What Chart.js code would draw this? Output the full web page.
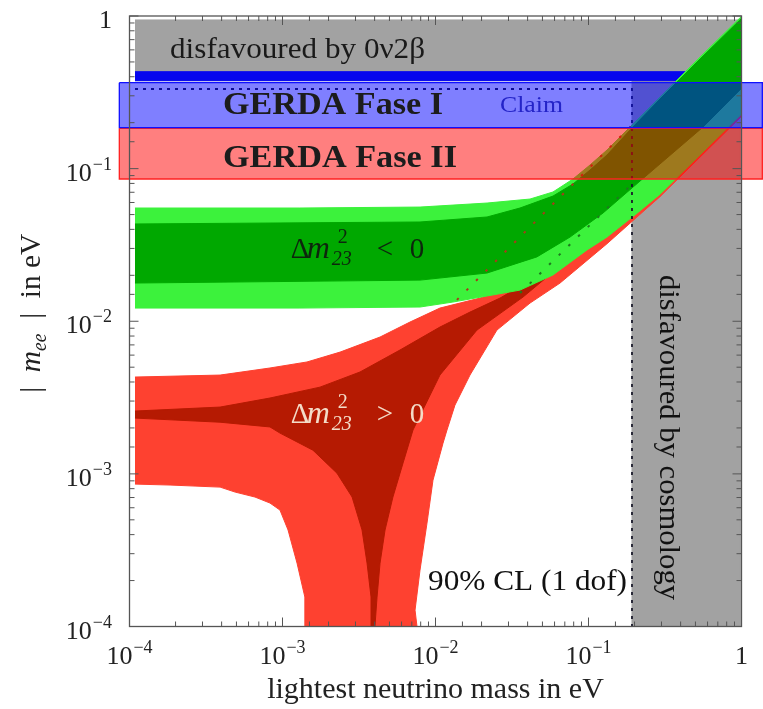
<!DOCTYPE html>
<html><head><meta charset="utf-8">
<script src="https://cdn.jsdelivr.net/npm/chart.js@4.4.1/dist/chart.umd.min.js"></script>
<style>html,body{margin:0;padding:0;background:#fff}#wrap{width:763px;height:709px;position:relative}</style>
</head><body><div id="wrap"><canvas id="c"></canvas></div>
<script>
// ---------- axes ----------
const tickExps  = [-4, -3, -2, -1, 0];
const tickBase  = ['10', '10', '10', '10', '1'];
const tickSup   = ['−4', '−3', '−2', '−1', ''];
const xTitle = 'lightest neutrino mass in eV';

// ---------- regions (x = lightest mass [eV], y = |m_ee| [eV]) ----------
// grey: disfavoured by 0v2b (top) + disfavoured by cosmology (right)
const greyX = [1.086e-4, 0.978, 0.978, 0.1924, 0.1924, 1.086e-4];
const greyY = [0.942, 0.942, 1e-4, 1e-4, 0.3767, 0.3767];
// dark blue strip
const stripX = [1.086e-4, 0.9067, 0.9067, 1.086e-4];
const stripY = [0.4315, 0.4315, 0.3767, 0.3767];
// normal hierarchy (Δm²23 > 0), outer
const redOuterX = [1.086e-4, 3.91e-4, 8.28e-4, 1.445e-3, 2.38e-3, 4.34e-3, 6.81e-3, 0.01069, 0.01954, 0.0307, 0.0482, 0.0879, 0.1607, 0.2935, 0.5358, 0.99,
  0.99, 0.5358, 0.2935, 0.2075, 0.1321, 0.0652, 0.0415, 0.0252, 0.0168, 0.0134, 0.01189, 0.0112, 9.63e-3, 8.80e-3, 7.92e-3, 7.35e-3, 7.57e-3,
  1.40e-3, 1.40e-3, 1.245e-3, 1.087e-3, 9.63e-4, 8.28e-4, 6.61e-4, 4.9e-4, 3.91e-4, 1.84e-4, 1.086e-4];
const redOuterY = [0.00431, 0.00444, 0.00494, 0.00541, 0.00628, 0.00788, 0.00988, 0.0122, 0.01419, 0.0165, 0.0210, 0.0316, 0.0577, 0.1138, 0.2421, 0.5149,
  0.2180, 0.1190, 0.0655, 0.0482, 0.0322, 0.0178, 0.01316, 0.00875, 0.00444, 0.00282, 0.00194, 0.00159, 0.00091, 0.000476, 0.000234, 0.000128, 1e-4,
  1e-4, 0.000156, 0.00026, 0.000429, 0.000579, 0.000644, 0.000705, 0.00076, 0.000819, 0.000845, 0.000857];
// normal hierarchy, inner
const redInnerX = [1.086e-4, 3.91e-4, 8.28e-4, 1.757e-3, 3.21e-3, 5.86e-3, 0.01069, 0.0168, 0.02642, 0.0482, 0.1189, 0.2935, 0.99,
  0.99, 0.3966, 0.1607, 0.0757, 0.0373, 0.01866, 0.01069, 7.13e-3, 6.14e-3, 5.27e-3, 4.68e-3, 4.34e-3, 4.15e-3, 4.02e-3,
  3.79e-3, 3.79e-3, 3.57e-3, 3.31e-3, 2.85e-3, 2.27e-3, 1.58e-3, 9.63e-4, 8.28e-4, 3.91e-4, 1.086e-4];
const redInnerY = [0.00258, 0.00274, 0.00314, 0.00370, 0.00465, 0.00648, 0.00916, 0.01148, 0.01419, 0.0201, 0.0408, 0.0979, 0.3037,
  0.2421, 0.1138, 0.0497, 0.02596, 0.0144, 0.00875, 0.00444, 0.00194, 0.00118, 0.000705, 0.000429, 0.00026, 0.000156, 1e-4,
  1e-4, 0.000156, 0.00026, 0.000429, 0.000705, 0.00101, 0.00143, 0.00185, 0.00203, 0.00218, 0.00232];
// inverted hierarchy (Δm²23 < 0), outer
const greenOuterX = [1.086e-4, 1.30e-3, 7.92e-3, 0.02172, 0.0415, 0.0586, 0.0792, 0.1023, 0.1321, 0.1868, 0.2935, 0.5358, 0.99,
  0.99, 0.5358, 0.2935, 0.2075, 0.1321, 0.0977, 0.0586, 0.03567, 0.013, 7.92e-3, 1.30e-3, 1.086e-4];
const greenOuterY = [0.0552, 0.0552, 0.0560, 0.0595, 0.0632, 0.0703, 0.0855, 0.1056, 0.1324, 0.1874, 0.2946, 0.5385, 0.985,
  0.2250, 0.1230, 0.0680, 0.0510, 0.0356, 0.0293, 0.0201, 0.0160, 0.01336, 0.01239, 0.0122, 0.0122];
// inverted hierarchy, inner
const greenInnerX = [1.086e-4, 7.92e-3, 0.02172, 0.03567, 0.0586, 0.0792, 0.1023, 0.1321, 0.1868, 0.2935, 0.5358, 0.99,
  0.99, 0.561, 0.1955, 0.1245, 0.0757, 0.046, 0.02172, 7.92e-3, 1.086e-4];
const greenInnerY = [0.0434, 0.0447, 0.0482, 0.0552, 0.0661, 0.0793, 0.0979, 0.1228, 0.179, 0.2859, 0.5225, 0.9557,
  0.3324, 0.1874, 0.0757, 0.0512, 0.0356, 0.0264, 0.0207, 0.0186, 0.0178];
// dotted lines
const diagRedX = [0.0138, 0.19], diagRedY = [0.0138, 0.19];
const diagGreenX = [0.0357, 0.1955], diagGreenY = [0.0153, 0.0805];
const limitX = [1.086e-4, 0.1924, 0.1924], limitY = [0.3324, 0.3324, 1e-4];
// GERDA sensitivity bands (extend past the frame)
const faseIX = [8.58e-5, 1.368, 1.368, 8.58e-5, 8.58e-5], faseIY = [0.3655, 0.3655, 0.1854, 0.1854, 0.3655];
const faseIIX = [8.58e-5, 1.368, 1.368, 8.58e-5, 8.58e-5], faseIIY = [0.1837, 0.1837, 0.0855, 0.0855, 0.1837];

const pts = (xs, ys) => xs.map((x, i) => ({x, y: ys[i]}));
const SERIF = "'Liberation Serif', 'Times New Roman', serif";

function region(label, xs, ys, color, order) {
  return {label, data: pts(xs, ys), showLine: true, fill: 'shape', backgroundColor: color,
    borderColor: color, borderWidth: 1, pointRadius: 0, pointHoverRadius: 0, tension: 0, order};
}
function dotted(label, xs, ys, color, dash, width, order) {
  return {label, data: pts(xs, ys), showLine: true, fill: false, borderColor: color, borderWidth: width,
    borderDash: dash, pointRadius: 0, pointHoverRadius: 0, tension: 0, order};
}
function band(label, xs, ys, fillC, lineC, order) {
  return {label, data: pts(xs, ys), showLine: true, fill: false, overlay: true, backgroundColor: fillC,
    borderColor: lineC, borderWidth: 1.3, pointRadius: 0, pointHoverRadius: 0, tension: 0, clip: false, order};
}

const datasets = [
  band('GERDA Fase I', faseIX, faseIY, 'rgba(0,0,255,0.5)', '#1010ff', 0),
  band('GERDA Fase II', faseIIX, faseIIY, 'rgba(255,0,0,0.5)', '#ff2020', 1),
  dotted('cosmology limit', limitX, limitY, '#1a1a2a', [3, 5], 1.8, 2),
  dotted('green dotted', diagGreenX, diagGreenY, '#1f7a1f', [2.5, 11], 2, 3),
  dotted('red dotted', diagRedX, diagRedY, '#a83a18', [2.5, 11], 2, 4),
  region('Δm²23<0 inner', greenInnerX, greenInnerY, '#00a800', 5),
  region('Δm²23<0 outer', greenOuterX, greenOuterY, '#3cf23c', 6),
  region('Δm²23>0 inner', redInnerX, redInnerY, '#b51a02', 7),
  region('Δm²23>0 outer', redOuterX, redOuterY, '#fe4130', 8),
  region('strip', stripX, stripY, '#0606ee', 9),
  region('disfavoured', greyX, greyY, '#a2a2a2', 10)
];

const isMajor = v => Math.abs(Math.log10(v) - Math.round(Math.log10(v))) < 1e-6;

const overlayFill = {
  id: 'overlayFill',
  beforeDatasetDraw(chart, args) {
    const ds = chart.data.datasets[args.index];
    if (!ds.overlay) return;
    const ctx = chart.ctx, p = args.meta.data;
    ctx.save();
    ctx.fillStyle = ds.backgroundColor;
    ctx.beginPath();
    p.forEach((q, i) => i ? ctx.lineTo(q.x, q.y) : ctx.moveTo(q.x, q.y));
    ctx.closePath();
    ctx.fill();
    ctx.restore();
  }
};

const frameTicks = {
  id: 'frameTicks',
  afterDatasetsDraw(chart) {
    const {ctx, chartArea: a, scales: {x, y}} = chart;
    ctx.save();
    ctx.strokeStyle = '#555';
    ctx.lineWidth = 1.3;
    ctx.strokeRect(a.left, a.top, a.right - a.left, a.bottom - a.top);
    ctx.lineWidth = 1;
    ctx.beginPath();
    x.ticks.forEach(t => {
      const p = x.getPixelForValue(t.value), L = isMajor(t.value) ? 9 : 5;
      ctx.moveTo(p, a.bottom); ctx.lineTo(p, a.bottom - L);
      ctx.moveTo(p, a.top); ctx.lineTo(p, a.top + L);
    });
    y.ticks.forEach(t => {
      const p = y.getPixelForValue(t.value), L = isMajor(t.value) ? 9 : 5;
      ctx.moveTo(a.left, p); ctx.lineTo(a.left + L, p);
      ctx.moveTo(a.right, p); ctx.lineTo(a.right - L, p);
    });
    ctx.stroke();
    // tick labels: 10 with superscript exponent
    ctx.fillStyle = '#222';
    ctx.textBaseline = 'alphabetic'; ctx.textAlign = 'left';
    const BASE = '26px ' + SERIF, SUP = '18px ' + SERIF;
    tickExps.forEach((e, i) => {
      const v = Math.pow(10, e);
      ctx.font = BASE; const wb = ctx.measureText(tickBase[i]).width;
      ctx.font = SUP; const ws = ctx.measureText(tickSup[i]).width + (tickSup[i] ? 1 : 0);
      // x axis
      const px = x.getPixelForValue(v), bx = px - (wb + ws) / 2, by = a.bottom + 37;
      ctx.font = BASE; ctx.fillText(tickBase[i], bx, by);
      ctx.font = SUP; ctx.fillText(tickSup[i], bx + wb + 1, by - 11);
      // y axis
      const py = y.getPixelForValue(v), rx = 112 - (wb + ws), ry = py + 12;
      ctx.font = BASE; ctx.fillText(tickBase[i], rx, ry);
      ctx.font = SUP; ctx.fillText(tickSup[i], rx + wb + 1, ry - 11);
    });
    ctx.restore();
  }
};

// text annotations: left/baseline anchor and right end in data coordinates
const notes = [
  {text: 'disfavoured by 0ν2β', x: 1.84e-4, x2: 8.54e-3, y: 0.528, font: '29px ' + SERIF, color: '#1a1a1a'},
  {text: 'GERDA Fase I', x: 4.08e-4, x2: 0.01119, y: 0.227, font: 'bold 32px ' + SERIF, color: '#1c1c1c'},
  {text: 'Claim', x: 0.02641, x2: 0.0681, y: 0.2349, font: '24px ' + SERIF, color: '#2424c8'},
  {text: 'GERDA Fase II', x: 4.08e-4, x2: 0.01382, y: 0.1029, font: 'bold 32px ' + SERIF, color: '#1c1c1c'},
  {text: '90% CL (1 dof)', x: 8.93e-3, x2: 0.1786, y: 1.733e-4, font: '29px ' + SERIF, color: '#111'}
];

const labels = {
  id: 'labels',
  afterDraw(chart) {
    const {ctx, scales: {x, y}} = chart;
    const X = v => x.getPixelForValue(v), Y = v => y.getPixelForValue(v);
    notes.forEach(n => {
      ctx.save();
      ctx.font = n.font; ctx.fillStyle = n.color; ctx.textBaseline = 'alphabetic'; ctx.textAlign = 'left';
      const x0 = X(n.x), x1 = X(n.x2), w = ctx.measureText(n.text).width;
      ctx.translate(x0, Y(n.y)); ctx.scale((x1 - x0) / w, 1);
      ctx.fillText(n.text, 0, 0);
      ctx.restore();
    });
    // rotated cosmology label
    ctx.save();
    ctx.font = '29px ' + SERIF; ctx.fillStyle = '#111'; ctx.textBaseline = 'middle'; ctx.textAlign = 'left';
    const cTxt = 'disfavoured by cosmology';
    const cy0 = Y(0.0201), cy1 = Y(1.49e-4), cw = ctx.measureText(cTxt).width;
    ctx.translate(X(0.3308), cy0); ctx.rotate(Math.PI / 2); ctx.scale((cy1 - cy0) / cw, 1);
    ctx.fillText(cTxt, 0, 0);
    ctx.restore();
    // Δm² labels
    const delta = (xv, yv, rel, color) => {
      const bx = X(xv), by = Y(yv);
      ctx.save(); ctx.fillStyle = color; ctx.textBaseline = 'alphabetic'; ctx.textAlign = 'left';
      ctx.font = '29px ' + SERIF; ctx.fillText('Δ', bx, by);
      ctx.font = 'italic 32px ' + SERIF; ctx.fillText('m', bx + 16, by);
      ctx.font = '20px ' + SERIF; ctx.fillText('2', bx + 47, by - 15);
      ctx.font = 'italic 20px ' + SERIF; ctx.fillText('23', bx + 41, by + 7);
      ctx.font = '29px ' + SERIF; ctx.fillText(rel, bx + 86, by); ctx.fillText('0', bx + 119, by);
      ctx.restore();
    };
    delta(1.132e-3, 0.0258, '<', '#0d260d');
    delta(1.132e-3, 0.00215, '>', '#f4dcc8');
    // y-axis title
    ctx.save();
    ctx.fillStyle = '#222'; ctx.textBaseline = 'alphabetic'; ctx.textAlign = 'left';
    const parts = [
      {t: '|  ', f: '30px ' + SERIF, dy: 0},
      {t: 'm', f: 'italic 30px ' + SERIF, dy: 0},
      {t: 'ee', f: 'italic 20px ' + SERIF, dy: 6},
      {t: '  |  in eV', f: '30px ' + SERIF, dy: 0}
    ];
    let total = 0;
    parts.forEach(p => { ctx.font = p.f; p.w = ctx.measureText(p.t).width; total += p.w; });
    const midY = (chart.chartArea.top + chart.chartArea.bottom) / 2 - 8;
    ctx.translate(40, midY); ctx.rotate(-Math.PI / 2); ctx.scale(159 / total, 1);
    let cx = -total / 2;
    parts.forEach(p => { ctx.font = p.f; ctx.fillText(p.t, cx, p.dy); cx += p.w; });
    ctx.restore();
  }
};

new Chart(document.getElementById('c'), {
  type: 'scatter',
  data: {datasets},
  options: {
    responsive: true, maintainAspectRatio: false, animation: false, events: [],
    layout: {padding: {top: 16, right: 21.5, left: 0, bottom: 0}},
    plugins: {legend: {display: false}, tooltip: {enabled: false}},
    scales: {
      x: {type: 'logarithmic', min: 1e-4, max: 1, position: 'bottom',
        grid: {display: false, drawTicks: false}, border: {display: false},
        ticks: {display: false, autoSkip: false},
        title: {display: true, text: xTitle, color: '#222', font: {family: SERIF, size: 30}, padding: {top: 0, bottom: 1}},
        afterFit(s) { s.height = 82.5; }},
      y: {type: 'logarithmic', min: 1e-4, max: 1, position: 'left',
        grid: {display: false, drawTicks: false}, border: {display: false},
        ticks: {display: false, autoSkip: false},
        afterFit(s) { s.width = 129.5; }}
    }
  },
  plugins: [overlayFill, frameTicks, labels]
});
</script>
</body></html>
